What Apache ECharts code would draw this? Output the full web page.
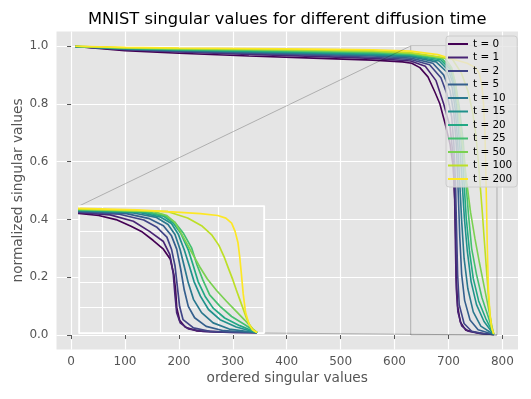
<!DOCTYPE html>
<html>
<head>
<meta charset="utf-8">
<script src="https://cdn.jsdelivr.net/npm/echarts@6.0.0/dist/echarts.min.js"></script>
<style>
  html, body { margin: 0; padding: 0; background: #fff; }
  #chart { width: 531px; height: 399px; }
</style>
</head>
<body>
<div id="chart"></div>
<script>
// diffusion times, one curve each
const tValues = [0, 1, 2, 5, 10, 15, 20, 25, 50, 100, 200]
const palette = ['#440154', '#482475', '#414487', '#355f8d', '#2a788e', '#21918c', '#22a884', '#44bf70', '#7ad151', '#bddf26', '#fde725']

// [index, normalized singular value]
const curveT0 = [[8, 0.998], [100, 0.984], [200, 0.975], [330, 0.965], [450, 0.958], [560, 0.951], [615, 0.945], [632, 0.94], [647, 0.925], [662, 0.893], [675, 0.84], [684, 0.8], [694, 0.73], [703, 0.66], [709, 0.58], [712, 0.46], [713.5, 0.34], [714.5, 0.2], [717, 0.1], [722, 0.045], [732, 0.017], [755, 0.007], [784, 0.002]]
const curveT1 = [[8, 0.998], [100, 0.987], [200, 0.979], [330, 0.971], [450, 0.964], [560, 0.957], [630, 0.948], [657, 0.93], [677, 0.88], [691, 0.8], [703, 0.72], [708.5, 0.62], [711.5, 0.47], [713, 0.3], [714.5, 0.16], [717.5, 0.08], [724.5, 0.032], [737, 0.013], [760, 0.005], [784, 0.002]]
const curveT2 = [[8, 0.998], [100, 0.988], [200, 0.981], [330, 0.974], [450, 0.968], [560, 0.961], [630, 0.953], [665, 0.935], [686, 0.89], [697, 0.835], [706, 0.755], [710, 0.66], [713, 0.53], [715, 0.37], [717, 0.21], [720, 0.105], [729, 0.04], [743, 0.013], [765, 0.005], [784, 0.002]]
const curveT5 = [[8, 0.998], [100, 0.989], [200, 0.983], [330, 0.977], [450, 0.971], [560, 0.965], [630, 0.958], [671, 0.94], [691, 0.9], [703, 0.845], [710, 0.765], [714.5, 0.66], [718, 0.5], [721, 0.34], [724.5, 0.21], [730, 0.12], [740, 0.052], [755, 0.018], [784, 0.002]]
const curveT10 = [[8, 0.998], [100, 0.99], [200, 0.985], [330, 0.979], [450, 0.974], [560, 0.968], [630, 0.963], [677, 0.945], [697, 0.91], [707, 0.855], [713, 0.775], [717.5, 0.655], [721, 0.525], [724.5, 0.395], [729, 0.265], [736, 0.16], [746, 0.08], [760, 0.031], [784, 0.002]]
const curveT15 = [[8, 0.998], [100, 0.991], [200, 0.986], [330, 0.981], [450, 0.976], [560, 0.971], [630, 0.966], [683, 0.948], [700, 0.915], [710, 0.862], [716, 0.775], [721, 0.655], [725.5, 0.525], [729.5, 0.405], [735, 0.29], [742, 0.185], [752, 0.105], [766, 0.047], [784, 0.002]]
const curveT20 = [[8, 0.998], [100, 0.992], [200, 0.987], [330, 0.983], [450, 0.978], [560, 0.974], [630, 0.969], [686, 0.952], [703, 0.92], [711.5, 0.866], [718, 0.786], [724.5, 0.655], [729, 0.525], [733, 0.405], [739, 0.29], [746, 0.196], [756, 0.118], [769, 0.058], [784, 0.002]]
const curveT25 = [[8, 0.998], [100, 0.992], [200, 0.988], [330, 0.985], [450, 0.981], [560, 0.977], [630, 0.971], [688, 0.956], [704, 0.925], [713, 0.87], [720, 0.79], [727.5, 0.668], [732, 0.537], [737, 0.42], [743, 0.3], [752, 0.21], [762, 0.13], [773.5, 0.065], [784, 0.002]]
const curveT50 = [[8, 0.999], [100, 0.993], [200, 0.99], [330, 0.987], [450, 0.984], [560, 0.98], [630, 0.974], [694, 0.958], [706, 0.925], [713, 0.87], [718, 0.79], [725, 0.675], [734.5, 0.52], [741, 0.425], [749, 0.335], [757.5, 0.25], [766, 0.17], [773.5, 0.1], [780, 0.035], [784, 0.004]]
const curveT100 = [[8, 0.999], [100, 0.994], [200, 0.991], [330, 0.989], [450, 0.986], [560, 0.983], [630, 0.977], [707, 0.955], [724, 0.906], [736, 0.845], [745, 0.77], [751, 0.69], [755.5, 0.6], [759, 0.515], [763, 0.42], [766, 0.34], [769, 0.265], [772, 0.19], [774.7, 0.12], [777.6, 0.065], [781, 0.02], [784, 0.004]]
const curveT200 = [[8, 0.999], [100, 0.995], [200, 0.993], [330, 0.991], [450, 0.989], [560, 0.987], [630, 0.982], [680, 0.97], [707, 0.955], [735, 0.94], [750, 0.925], [757, 0.905], [762, 0.865], [765, 0.8], [767.5, 0.71], [769, 0.6], [770.5, 0.46], [772, 0.31], [774, 0.165], [777, 0.07], [780, 0.025], [784, 0.004]]
const curves = [curveT0, curveT1, curveT2, curveT5, curveT10, curveT15, curveT20, curveT25, curveT50, curveT100, curveT200]

const xTicks = [0, 100, 200, 300, 400, 500, 600, 700, 800]
const yTicks = [0, 0.2, 0.4, 0.6, 0.8, 1.0]
// zoomed window shown in the inset
const insetX = [630, 790]
const insetY = [0, 1]

const font = 'DejaVu Sans'
const names = tValues.map((t) => 't = ' + t)

const chart = echarts.init(document.getElementById('chart'), null, { renderer: 'canvas' })

const mainSeries = curves.map((c, i) => ({
  name: names[i],
  type: 'line',
  data: c,
  xAxisIndex: 0,
  yAxisIndex: 0,
  symbol: 'none',
  z: 2,
  lineStyle: { width: 1.6, color: palette[i] },
  itemStyle: { color: palette[i] }
}))

const insetSeries = curves.map((c, i) => ({
  name: names[i],
  type: 'line',
  data: c,
  xAxisIndex: 1,
  yAxisIndex: 1,
  symbol: 'none',
  clip: true,
  z: 6,
  lineStyle: { width: 1.7, color: palette[i] },
  itemStyle: { color: palette[i] }
}))

// outline of the zoomed window on the main axes
const boxSeries = {
  type: 'line',
  data: [
    [insetX[0], insetY[0]],
    [insetX[1], insetY[0]],
    [insetX[1], insetY[1]],
    [insetX[0], insetY[1]],
    [insetX[0], insetY[0]]
  ],
  xAxisIndex: 0,
  yAxisIndex: 0,
  symbol: 'none',
  silent: true,
  z: 1,
  lineStyle: { width: 0.8, color: 'rgba(0,0,0,0.3)' }
}

const option = {
  animation: false,
  backgroundColor: '#fff',
  grid: [
    { left: 56.5, right: 13, top: 31.5, bottom: 49.5, show: true, backgroundColor: '#E5E5E5', borderWidth: 0, outerBoundsMode: 'none' },
    { left: 79, top: 206, width: 185, height: 127, show: true, backgroundColor: '#E5E5E5', borderColor: '#fff', borderWidth: 1.5, z: 4, outerBoundsMode: 'none' }
  ],
  legend: {
    data: names,
    orient: 'vertical',
    left: 446,
    top: 36,
    padding: [2, 5, 2, 2],
    itemWidth: 20,
    itemHeight: 2,
    itemGap: 1.5,
    icon: 'rect',
    backgroundColor: 'rgba(229,229,229,0.8)',
    borderColor: '#cccccc',
    borderWidth: 1,
    borderRadius: 3,
    textStyle: { fontFamily: font, fontSize: 10.4, lineHeight: 12, color: '#000' }
  },
  xAxis: [
    {
      type: 'value',
      gridIndex: 0,
      min: -27,
      max: 829,
      splitNumber: 8,
      axisLine: { show: false },
      axisTick: { show: true, length: 4, customValues: xTicks, lineStyle: { color: '#555' } },
      axisLabel: { customValues: xTicks, color: '#555', fontSize: 12, fontFamily: font, margin: 6 },
      splitLine: { show: true, lineStyle: { color: '#fff', width: 1.2 } },
      name: 'ordered singular values',
      nameLocation: 'middle',
      nameGap: 22,
      nameMoveOverlap: false,
      nameTextStyle: { color: '#555', fontSize: 13.7, fontFamily: font }
    },
    {
      type: 'value',
      gridIndex: 1,
      min: insetX[0],
      max: insetX[1],
      splitNumber: 3,
      z: 5,
      axisLine: { show: false },
      axisTick: { show: false },
      axisLabel: { show: false },
      splitLine: { show: true, lineStyle: { color: '#fff', width: 1.2 } }
    }
  ],
  yAxis: [
    {
      type: 'value',
      gridIndex: 0,
      min: -0.05,
      max: 1.05,
      splitNumber: 5,
      axisLine: { show: false },
      axisTick: { show: true, length: 4, customValues: yTicks, lineStyle: { color: '#555' } },
      axisLabel: { customValues: yTicks, color: '#555', fontSize: 12, fontFamily: font, margin: 8, formatter: (v) => v.toFixed(1) },
      splitLine: { show: true, lineStyle: { color: '#fff', width: 1.2 } },
      name: 'normalized singular values',
      nameLocation: 'middle',
      nameGap: 31,
      nameMoveOverlap: false,
      nameTextStyle: { color: '#555', fontSize: 13.7, fontFamily: font }
    },
    {
      type: 'value',
      gridIndex: 1,
      min: insetY[0],
      max: insetY[1],
      interval: 0.2,
      z: 5,
      axisLine: { show: false },
      axisTick: { show: false },
      axisLabel: { show: false },
      splitLine: { show: true, lineStyle: { color: '#fff', width: 1.2 } }
    }
  ],
  series: [boxSeries, ...mainSeries, ...insetSeries]
}

chart.setOption(option)

// title over the plot panel, and the two lines tying the inset to its window
const topLeftIn = chart.convertToPixel({ gridIndex: 1 }, [insetX[0], insetY[1]])
const topLeftMain = chart.convertToPixel({ gridIndex: 0 }, [insetX[0], insetY[1]])
const botRightIn = chart.convertToPixel({ gridIndex: 1 }, [insetX[1], insetY[0]])
const botRightMain = chart.convertToPixel({ gridIndex: 0 }, [insetX[1], insetY[0]])
const panelLeft = chart.convertToPixel({ gridIndex: 0 }, [-27, 0])[0]
const panelRight = chart.convertToPixel({ gridIndex: 0 }, [829, 0])[0]

chart.setOption({
  graphic: [
    {
      type: 'text',
      x: (panelLeft + panelRight) / 2,
      y: 20,
      silent: true,
      style: { text: 'MNIST singular values for different diffusion time', align: 'center', verticalAlign: 'middle', fontFamily: font, fontSize: 16.3, fill: '#000' }
    },
    {
      type: 'line',
      silent: true,
      z: 3,
      shape: { x1: topLeftIn[0], y1: topLeftIn[1], x2: topLeftMain[0], y2: topLeftMain[1] },
      style: { stroke: 'rgba(0,0,0,0.3)', lineWidth: 0.8 }
    },
    {
      type: 'line',
      silent: true,
      z: 3,
      shape: { x1: botRightIn[0], y1: botRightIn[1], x2: botRightMain[0], y2: botRightMain[1] },
      style: { stroke: 'rgba(0,0,0,0.3)', lineWidth: 0.8 }
    }
  ]
})
</script>
</body>
</html>
